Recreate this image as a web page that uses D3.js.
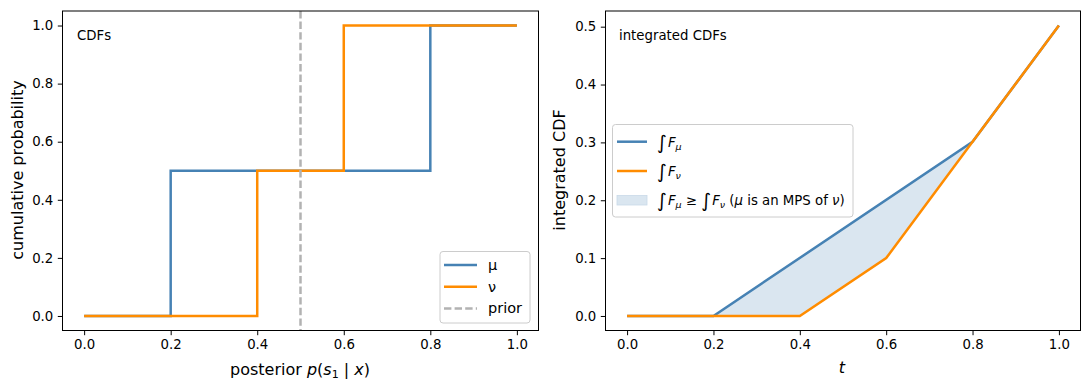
<!DOCTYPE html>
<html><head><meta charset="utf-8">
<script src="https://cdn.jsdelivr.net/npm/d3@7"></script>
<style>
body{margin:0;background:#fff;}
svg{display:block;font-family:"DejaVu Sans",sans-serif;}
</style></head>
<body>
<svg id="c" width="1089" height="390"></svg>
<script>
// ---- data ----
const xTicks = [0, 0.2, 0.4, 0.6, 0.8, 1.0];
const leftYTicks = [0, 0.2, 0.4, 0.6, 0.8, 1.0];
const rightYTicks = [0, 0.1, 0.2, 0.3, 0.4, 0.5];
const cdfMuX = [0, 0.2, 0.8, 1.0];
const cdfMuY = [0, 0.5, 1.0, 1.0];
const cdfNuX = [0, 0.4, 0.6, 1.0];
const cdfNuY = [0, 0.5, 1.0, 1.0];
const prior = 0.5;
const intMuX = [0, 0.2, 0.8, 1.0];
const intMuY = [0, 0, 0.301, 0.502];
const intNuX = [0, 0.4, 0.6, 0.8, 1.0];
const intNuY = [0, 0, 0.1, 0.301, 0.502];

const BLUE = "#4682b4", ORANGE = "#ff8c00", GRAY = "#b2b2b2", FILL = "#dae6f0";
const LW = 2.5;
const svg = d3.select("#c");

function pad(lo, hi){ const m=(hi-lo)*0.05; return [lo-m, hi+m]; }

function mathText(g, x, y, parts, size, anchor){
  const t = g.append("text").attr("x", x).attr("y", y).attr("font-size", size).attr("fill","#000");
  if (anchor) t.attr("text-anchor", anchor);
  parts.forEach(p=>{
    const ts = t.append("tspan").text(p.t);
    if (p.i) ts.attr("font-style","italic");
    if (p.s) ts.attr("font-size", p.s);
    if (p.dy) ts.attr("dy", p.dy);
    if (p.dx) ts.attr("dx", p.dx);
  });
  return t;
}

function panel(L, R, T, B, xDom, yDom, yTicks, yFmt){
  const x = d3.scaleLinear().domain(xDom).range([L, R]);
  const y = d3.scaleLinear().domain(yDom).range([B, T]);
  const g = svg.append("g");
  const ax = g.append("g").attr("transform",`translate(0,${B})`)
    .call(d3.axisBottom(x).tickValues(xTicks).tickFormat(d3.format(".1f")).tickSizeOuter(0).tickSize(4.7).tickPadding(4.5));
  const ay = g.append("g").attr("transform",`translate(${L},0)`)
    .call(d3.axisLeft(y).tickValues(yTicks).tickFormat(yFmt).tickSizeOuter(0).tickSize(4.7).tickPadding(4.5));
  [ax, ay].forEach(a=>{
    a.select(".domain").remove();
    a.selectAll("text").attr("font-size", 13.3).attr("font-family","DejaVu Sans").attr("fill","#000");
    a.selectAll("line").attr("stroke","#000").attr("stroke-width",1);
  });
  return {g, x, y};
}
function frame(g, L, R, T, B){
  g.append("rect").attr("x",L).attr("y",T).attr("width",R-L).attr("height",B-T)
    .attr("fill","none").attr("stroke","#000").attr("stroke-width",1);
}

// ---- left panel ----
{
  const L=62.5, R=538.5, T=11, B=330.5;
  const p = panel(L,R,T,B,pad(0,1),pad(0,1),leftYTicks,d3.format(".1f"));
  const {g,x,y} = p;
  const step = d3.line().x(d=>x(d[0])).y(d=>y(d[1])).curve(d3.curveStepAfter);
  g.append("path").attr("d", step(d3.zip(cdfMuX,cdfMuY))).attr("fill","none").attr("stroke",BLUE).attr("stroke-width",LW);
  g.append("path").attr("d", step(d3.zip(cdfNuX,cdfNuY))).attr("fill","none").attr("stroke",ORANGE).attr("stroke-width",LW);
  g.append("line").attr("x1",x(prior)).attr("x2",x(prior)).attr("y1",T).attr("y2",B)
    .attr("stroke",GRAY).attr("stroke-width",LW).attr("stroke-dasharray","7.4,3.2");
  frame(g,L,R,T,B);
  g.append("text").attr("x",77).attr("y",40).attr("font-size",13.3).text("CDFs");
  // axis labels
  mathText(g, 300, 375, [
    {t:"posterior "},{t:"p",i:1},{t:"("},{t:"s",i:1},{t:"1",s:11,dy:3},{t:" | ",dy:-3},{t:"x",i:1},{t:")"}
  ], 16, "middle");
  g.append("text").attr("transform","translate(23,170) rotate(-90)").attr("text-anchor","middle")
    .attr("font-size",16).text("cumulative probability");
  // legend
  const lg = g.append("g");
  lg.append("rect").attr("x",440).attr("y",251.5).attr("width",90).attr("height",71.5).attr("rx",3)
    .attr("fill","#fff").attr("fill-opacity",0.8).attr("stroke","#cccccc").attr("stroke-width",1);
  const items=[{c:BLUE,l:"μ"},{c:ORANGE,l:"ν"},{c:GRAY,l:"prior",d:"7.4,3.2"}];
  items.forEach((it,i)=>{
    const yy = 265 + i*21.7;
    const ln = lg.append("line").attr("x1",444).attr("x2",477).attr("y1",yy).attr("y2",yy)
      .attr("stroke",it.c).attr("stroke-width",LW);
    if (it.d) ln.attr("stroke-dasharray",it.d);
    lg.append("text").attr("x",488).attr("y",yy+5).attr("font-size",14.5).text(it.l);
  });
}

// ---- right panel ----
{
  const L=605.5, R=1080.5, T=11, B=330.5;
  const yMax = d3.max(intMuY.concat(intNuY));
  const p = panel(L,R,T,B,pad(0,1),pad(0,yMax),rightYTicks,d3.format(".1f"));
  const {g,x,y} = p;
  const ln = d3.line().x(d=>x(d[0])).y(d=>y(d[1]));
  const muPts = d3.zip(intMuX,intMuY), nuPts = d3.zip(intNuX,intNuY);
  g.append("path").attr("d", ln(muPts.concat(nuPts.slice().reverse())) + "Z").attr("fill",FILL).attr("stroke","none");
  g.append("path").attr("d", ln(muPts)).attr("fill","none").attr("stroke",BLUE).attr("stroke-width",LW);
  g.append("path").attr("d", ln(nuPts)).attr("fill","none").attr("stroke",ORANGE).attr("stroke-width",LW);
  frame(g,L,R,T,B);
  g.append("text").attr("x",619).attr("y",40).attr("font-size",13.3).text("integrated CDFs");
  mathText(g, 842, 373, [{t:"t",i:1}], 16, "middle");
  g.append("text").attr("transform","translate(565,170) rotate(-90)").attr("text-anchor","middle")
    .attr("font-size",16).text("integrated CDF");
  // legend
  const lg = g.append("g");
  lg.append("rect").attr("x",612.5).attr("y",124.5).attr("width",240.5).attr("height",92.5).attr("rx",3)
    .attr("fill","#fff").attr("fill-opacity",0.8).attr("stroke","#cccccc").attr("stroke-width",1);
  const rows = [141.7, 171, 200];
  lg.append("line").attr("x1",617).attr("x2",647).attr("y1",rows[0]).attr("y2",rows[0]).attr("stroke",BLUE).attr("stroke-width",LW);
  lg.append("line").attr("x1",617).attr("x2",647).attr("y1",rows[1]).attr("y2",rows[1]).attr("stroke",ORANGE).attr("stroke-width",LW);
  lg.append("rect").attr("x",617).attr("y",rows[2]-4.5).attr("width",30).attr("height",9.5)
    .attr("fill",FILL).attr("stroke","#c9d9e8").attr("stroke-width",0.8);
  const intg = (sub)=>[{t:"∫",s:19,dy:2},{t:"F",i:1,dx:1,dy:-2},{t:sub,i:1,s:9.5,dy:3}];
  mathText(lg, 657, rows[0]+5, intg("μ"), 13.3);
  mathText(lg, 657, rows[1]+5, intg("ν"), 13.3);
  mathText(lg, 657, rows[2]+5, intg("μ").concat([
    {t:" ≥ ",dy:-3},{t:"∫",s:19,dy:2},{t:"F",i:1,dx:1,dy:-2},{t:"ν",i:1,s:9.5,dy:3},
    {t:" (",dy:-3},{t:"μ",i:1},{t:" is an MPS of "},{t:"ν",i:1},{t:")"}
  ]), 13.3);
}
</script>
</body></html>
